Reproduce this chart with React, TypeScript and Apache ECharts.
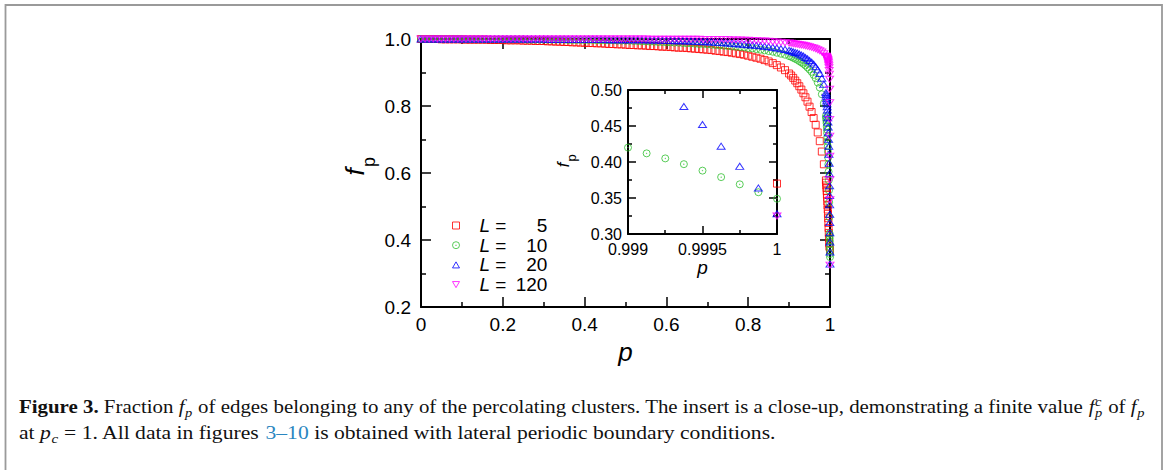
import React, { useEffect, useRef } from 'react';
import * as echarts from 'echarts';

// p values (shared grid)
const P = [
  0, 0.01, 0.02, 0.03, 0.04, 0.05, 0.06, 0.07, 0.08, 0.09,
  0.1, 0.11, 0.12, 0.13, 0.14, 0.15, 0.16, 0.17, 0.18, 0.19,
  0.2, 0.21, 0.22, 0.23, 0.24, 0.25, 0.26, 0.27, 0.28, 0.29,
  0.3, 0.31, 0.32, 0.33, 0.34, 0.35, 0.36, 0.37, 0.38, 0.39,
  0.4, 0.41, 0.42, 0.43, 0.44, 0.45, 0.46, 0.47, 0.48, 0.49,
  0.5, 0.51, 0.52, 0.53, 0.54, 0.55, 0.56, 0.57, 0.58, 0.59,
  0.6, 0.61, 0.62, 0.63, 0.64, 0.65, 0.66, 0.67, 0.68, 0.69,
  0.7, 0.71, 0.72, 0.73, 0.74, 0.75, 0.76, 0.77, 0.78, 0.79,
  0.8, 0.81, 0.82, 0.83, 0.84, 0.85, 0.86, 0.87, 0.88, 0.89,
  0.9,
  0.905, 0.91, 0.915, 0.92, 0.925, 0.93, 0.935, 0.94, 0.945, 0.95, 0.955, 0.96, 0.965, 0.97, 0.975, 0.98, 0.985, 0.99,
  0.9905, 0.991, 0.9915, 0.992, 0.9925, 0.993, 0.9935, 0.994, 0.9945, 0.995, 0.9955, 0.996, 0.9965, 0.997, 0.9975, 0.998, 0.9985, 0.999,
  0.999125, 0.99925, 0.999375, 0.9995, 0.999625, 0.99975, 0.999875, 1,
];

// f_p for L = 5
const F_L5 = [
  1.0, 1.0, 1.0, 1.0, 1.0, 0.999, 0.999, 0.999, 0.999, 0.999,
  0.999, 0.998, 0.998, 0.998, 0.998, 0.998, 0.998, 0.997, 0.997, 0.997,
  0.997, 0.996, 0.996, 0.996, 0.996, 0.995, 0.995, 0.995, 0.994, 0.994,
  0.994, 0.993, 0.993, 0.992, 0.992, 0.991, 0.991, 0.99, 0.99, 0.989,
  0.989, 0.988, 0.988, 0.987, 0.987, 0.986, 0.985, 0.985, 0.984, 0.984,
  0.983, 0.982, 0.982, 0.981, 0.981, 0.98, 0.979, 0.979, 0.978, 0.977,
  0.977, 0.976, 0.975, 0.974, 0.974, 0.973, 0.972, 0.971, 0.97, 0.969,
  0.968, 0.967, 0.965, 0.964, 0.962, 0.961, 0.959, 0.957, 0.955, 0.953,
  0.95, 0.947, 0.944, 0.941, 0.937, 0.933, 0.928, 0.922, 0.915, 0.907,
  0.897,
  0.891, 0.884, 0.876, 0.868, 0.859, 0.849, 0.838, 0.826, 0.813, 0.798, 0.782, 0.764, 0.744, 0.721, 0.695, 0.664, 0.626, 0.578,
  0.571, 0.563, 0.555, 0.546, 0.536, 0.526, 0.515, 0.503, 0.491, 0.478, 0.465, 0.451, 0.436, 0.421, 0.405, 0.39, 0.38, null,
  null, null, null, null, null, null, null, 0.37,
];

// f_p for L = 10
const F_L10 = [
  1.0, 1.0, 1.0, 1.0, 1.0, 1.0, 1.0, 1.0, 1.0, 1.0,
  1.0, 0.999, 0.999, 0.999, 0.999, 0.999, 0.999, 0.999, 0.999, 0.999,
  0.999, 0.999, 0.999, 0.999, 0.999, 0.999, 0.998, 0.998, 0.998, 0.998,
  0.998, 0.998, 0.998, 0.998, 0.998, 0.998, 0.997, 0.997, 0.997, 0.997,
  0.997, 0.997, 0.997, 0.996, 0.996, 0.996, 0.996, 0.996, 0.995, 0.995,
  0.995, 0.995, 0.994, 0.994, 0.993, 0.993, 0.992, 0.992, 0.991, 0.991,
  0.99, 0.99, 0.989, 0.989, 0.988, 0.987, 0.987, 0.986, 0.985, 0.985,
  0.984, 0.983, 0.982, 0.981, 0.98, 0.979, 0.978, 0.977, 0.976, 0.975,
  0.973, 0.972, 0.97, 0.968, 0.966, 0.964, 0.962, 0.959, 0.956, 0.953,
  0.949,
  0.947, 0.944, 0.941, 0.938, 0.934, 0.93, 0.926, 0.921, 0.915, 0.909, 0.902, 0.893, 0.883, 0.87, 0.855, 0.835, 0.808, 0.77,
  0.764, 0.757, 0.749, 0.74, 0.73, 0.719, 0.707, 0.694, 0.68, 0.664, 0.646, 0.626, 0.604, 0.578, 0.548, 0.513, 0.468, 0.42,
  0.412, 0.405, 0.397, 0.388, 0.379, 0.369, 0.358, 0.349,
];

// f_p for L = 20
const F_L20 = [
  1.0, 1.0, 1.0, 1.0, 1.0, 1.0, 1.0, 1.0, 1.0, 1.0,
  1.0, 1.0, 1.0, 1.0, 1.0, 1.0, 1.0, 1.0, 1.0, 1.0,
  1.0, 1.0, 1.0, 1.0, 1.0, 1.0, 1.0, 1.0, 1.0, 1.0,
  1.0, 0.999, 0.999, 0.999, 0.999, 0.999, 0.999, 0.999, 0.999, 0.999,
  0.999, 0.999, 0.999, 0.999, 0.999, 0.999, 0.998, 0.998, 0.998, 0.998,
  0.998, 0.998, 0.998, 0.998, 0.998, 0.998, 0.997, 0.997, 0.997, 0.996,
  0.996, 0.996, 0.995, 0.995, 0.995, 0.994, 0.994, 0.993, 0.993, 0.992,
  0.992, 0.991, 0.99, 0.99, 0.989, 0.988, 0.987, 0.986, 0.985, 0.984,
  0.983, 0.982, 0.981, 0.98, 0.978, 0.977, 0.975, 0.973, 0.971, 0.969,
  0.966,
  0.964, 0.962, 0.96, 0.958, 0.955, 0.952, 0.949, 0.945, 0.941, 0.936, 0.931, 0.925, 0.917, 0.908, 0.897, 0.883, 0.865, 0.84,
  0.835, 0.829, 0.822, 0.815, 0.807, 0.798, 0.788, 0.777, 0.765, 0.752, 0.737, 0.72, 0.701, 0.68, 0.656, 0.629, 0.598, 0.562,
  0.533, 0.505, 0.477, 0.452, 0.422, 0.394, 0.364, 0.328,
];

// f_p for L = 120
const F_L120 = [
  1.0, 1.0, 1.0, 1.0, 1.0, 1.0, 1.0, 1.0, 1.0, 1.0,
  1.0, 1.0, 1.0, 1.0, 1.0, 1.0, 1.0, 1.0, 1.0, 1.0,
  1.0, 1.0, 1.0, 1.0, 1.0, 1.0, 1.0, 1.0, 1.0, 1.0,
  1.0, 1.0, 1.0, 1.0, 1.0, 1.0, 1.0, 1.0, 1.0, 1.0,
  1.0, 1.0, 1.0, 1.0, 1.0, 1.0, 1.0, 1.0, 1.0, 1.0,
  1.0, 1.0, 1.0, 1.0, 1.0, 1.0, 0.999, 0.999, 0.999, 0.999,
  0.999, 0.999, 0.999, 0.999, 0.999, 0.999, 0.999, 0.999, 0.999, 0.998,
  0.998, 0.998, 0.998, 0.998, 0.998, 0.998, 0.997, 0.997, 0.997, 0.996,
  0.996, 0.995, 0.995, 0.994, 0.994, 0.993, 0.992, 0.991, 0.99, 0.989,
  0.988,
  0.987, 0.986, 0.985, 0.984, 0.983, 0.982, 0.981, 0.98, 0.978, 0.977, 0.975, 0.973, 0.971, 0.968, 0.965, 0.961, 0.956, 0.949,
  0.948, 0.947, 0.946, 0.945, 0.944, 0.942, 0.941, 0.939, 0.937, 0.935, 0.932, 0.929, 0.925, 0.92, 0.914, 0.906, 0.895, 0.88,
  0.85, 0.81, 0.76, 0.71, 0.65, 0.58, 0.52, 0.325,
];

const SERIES_NAMES = ['5', '10', '20', '120'];
const SERIES_VALUES = [F_L5, F_L10, F_L20, F_L120];
const COLORS = ['#ff0000', '#2fbf2f', '#0000ff', '#ff00ff'];
const SYMBOLS = [
  'path://M0,0L10,0L10,10L0,10Z',
  'path://M10,0A10,10,0,1,1,10,20A10,10,0,1,1,10,0ZM10,9.2A0.8,0.8,0,1,1,10,10.8A0.8,0.8,0,1,1,10,9.2Z',
  'path://M5,0L10,8.66L0,8.66Z',
  'path://M0,0L10,0L5,8.66Z',
];

const SANS = '"Liberation Sans", Arial, Helvetica, sans-serif';
const SERIF = '"Liberation Serif", "Times New Roman", serif';
const LINK = '#2a86c0';

const CAPTION_LINE1 = [
  { t: 'Figure 3.', w: 'bold' },
  { t: ' Fraction ' },
  { t: 'f', i: true },
  { t: 'p', i: true, sub: true },
  { t: ' of edges belonging to any of the percolating clusters. The insert is a close-up, demonstrating a finite value ' },
  { t: 'f', i: true },
  { t: 'c', i: true, sup: true, stack: true },
  { t: 'p', i: true, sub: true },
  { t: ' of ' },
  { t: 'f', i: true },
  { t: 'p', i: true, sub: true },
];
const CAPTION_LINE2 = [
  { t: 'at ' },
  { t: 'p', i: true },
  { t: 'c', i: true, sub: true },
  { t: ' = 1. All data in figures ' },
  { t: '3', color: LINK },
  { t: '\u2013', color: LINK },
  { t: '10', color: LINK },
  { t: ' is obtained with lateral periodic boundary conditions.' },
];

function pairs(vals: (number | null)[]) {
  const out: number[][] = [];
  for (let i = 0; i < P.length; i++) {
    const v = vals[i];
    if (v != null) out.push([P[i], v]);
  }
  return out;
}

function captionLine(segs: any[], x0: number, baseline: number, target: number) {
  const canvas = document.createElement('canvas');
  const ctx = canvas.getContext('2d')!;
  const base = 18;
  const small = 12.5;
  let cursor = 0;
  const children: any[] = [];
  for (const s of segs) {
    const size = s.sub || s.sup ? small : base;
    const fs = s.i ? 'italic' : 'normal';
    const fw = s.w || 'normal';
    ctx.font = `${fs} ${fw} ${size}px ${SERIF}`;
    const w = ctx.measureText(s.t).width;
    const dy = s.sub ? 4 : s.sup ? -7 : 0;
    children.push({
      type: 'text',
      x: cursor + (s.sub || s.sup ? 0.5 : 0),
      y: baseline + dy - 0.3375 * size,
      silent: true,
      style: {
        text: s.t,
        fontSize: size,
        fontFamily: SERIF,
        fontStyle: fs,
        fontWeight: fw,
        fill: s.color || '#111',
        align: 'left',
        verticalAlign: 'middle',
      },
    });
    if (!s.stack) cursor += w + (s.sub || s.sup ? 1 : 0);
  }
  return { type: 'group', x: x0, y: 0, scaleX: target / cursor, children };
}

function tickAxis(extra: any, big: boolean) {
  return {
    type: 'value',
    splitLine: { show: false },
    minorSplitLine: { show: false },
    axisLine: { show: true, onZero: false, lineStyle: { color: '#000', width: 2 } },
    axisTick: { show: true, inside: true, length: big ? 10 : 8, lineStyle: { color: '#000', width: 1.5 } },
    minorTick: { show: true, splitNumber: 2, length: big ? 5 : 4, lineStyle: { color: '#000', width: 1.5 } },
    ...extra,
  };
}

export default function App() {
  const ref = useRef<HTMLDivElement>(null);
  useEffect(() => {
    const el = ref.current!;
    const chart = echarts.init(el, undefined, { renderer: 'svg' });

    const mainLabel = { fontSize: 19, color: '#000', fontFamily: SANS };
    const insetLabel = { fontSize: 16, color: '#000', fontFamily: SANS };

    const series: any[] = [];
    for (let g = 0; g < 2; g++) {
      SERIES_NAMES.forEach((name, k) => {
        series.push({
          type: 'scatter',
          name,
          xAxisIndex: g === 0 ? 0 : 2,
          yAxisIndex: g === 0 ? 0 : 2,
          data: pairs(SERIES_VALUES[k]),
          symbol: SYMBOLS[k],
          symbolKeepAspect: true,
          symbolSize: k >= 2 ? [8, 7] : 7,
          clip: true,
          silent: true,
          z: 3 + k,
          itemStyle: { color: 'rgba(0,0,0,0)', borderColor: COLORS[k], borderWidth: 1 },
          emphasis: { disabled: true },
        });
      });
    }

    const option: any = {
      animation: false,
      backgroundColor: '#fff',
      grid: [
        { left: 421, top: 39, width: 409, height: 268, containLabel: false },
        { left: 628, top: 90, width: 149, height: 144, containLabel: false, show: true, backgroundColor: '#fff', borderWidth: 0 },
      ],
      xAxis: [
        tickAxis({
          gridIndex: 0, position: 'bottom', min: 0, max: 1, interval: 0.2,
          axisLabel: { ...mainLabel, margin: 8 },
          name: 'p', nameLocation: 'middle', nameGap: 29,
          nameTextStyle: { fontSize: 26, fontStyle: 'italic', fontFamily: SANS, color: '#000' },
        }, true),
        tickAxis({ gridIndex: 0, position: 'top', min: 0, max: 1, interval: 0.2, axisLabel: { show: false } }, true),
        tickAxis({
          gridIndex: 1, position: 'bottom', min: 0.999, max: 1, interval: 0.0005,
          axisLabel: { ...insetLabel, margin: 7, formatter: (v: number) => String(+v.toFixed(4)) },
          name: 'p', nameLocation: 'middle', nameGap: 24,
          nameTextStyle: { fontSize: 19, fontStyle: 'italic', fontFamily: SANS, color: '#000' },
        }, false),
        tickAxis({ gridIndex: 1, position: 'top', min: 0.999, max: 1, interval: 0.0005, axisLabel: { show: false } }, false),
      ],
      yAxis: [
        tickAxis({
          gridIndex: 0, position: 'left', min: 0.2, max: 1.0, interval: 0.2,
          axisLabel: { ...mainLabel, margin: 10, formatter: (v: number) => v.toFixed(1) },
        }, true),
        tickAxis({ gridIndex: 0, position: 'right', min: 0.2, max: 1.0, interval: 0.2, axisLabel: { show: false } }, true),
        tickAxis({
          gridIndex: 1, position: 'left', min: 0.3, max: 0.5, interval: 0.05,
          axisLabel: { ...insetLabel, margin: 6, formatter: (v: number) => v.toFixed(2) },
        }, false),
        tickAxis({ gridIndex: 1, position: 'right', min: 0.3, max: 0.5, interval: 0.05, axisLabel: { show: false } }, false),
      ],
      legend: {
        orient: 'vertical',
        left: 452,
        top: 216,
        padding: 0,
        itemWidth: 7,
        itemHeight: 7,
        itemGap: 0.7,
        selectedMode: false,
        data: SERIES_NAMES,
        itemStyle: { borderWidth: 1 },
        formatter: (name: string) => `{l|L}{e| =}{n|${name}}`,
        textStyle: {
          rich: {
            l: { fontFamily: SANS, fontStyle: 'italic', fontSize: 19, color: '#000', lineHeight: 20, padding: [0, 0, 0, 15] },
            e: { fontFamily: SANS, fontSize: 19, color: '#000', lineHeight: 20 },
            n: { fontFamily: SANS, fontSize: 19, color: '#000', lineHeight: 20, width: 41, align: 'right' },
          },
        },
      },
      graphic: {
        elements: [
          {
            type: 'rect', silent: true, z: -10,
            shape: { x: 5.5, y: 5, width: 1156.5, height: 600 },
            style: { fill: 'none', stroke: '#9a9a9a', lineWidth: 1.8 },
          },
          {
            type: 'group', x: 355, y: 172, rotation: Math.PI / 2, silent: true,
            children: [
              { type: 'text', x: 0, y: 0, style: { text: 'f', fontSize: 26, fontStyle: 'italic', fontFamily: SANS, fill: '#000', align: 'center', verticalAlign: 'middle' } },
              { type: 'text', x: 10, y: 14, style: { text: 'p', fontSize: 18, fontFamily: SANS, fill: '#000', align: 'center', verticalAlign: 'middle' } },
            ],
          },
          {
            type: 'group', x: 563, y: 165, rotation: Math.PI / 2, silent: true,
            children: [
              { type: 'text', x: 0, y: 0, style: { text: 'f', fontSize: 17, fontStyle: 'italic', fontFamily: SANS, fill: '#000', align: 'center', verticalAlign: 'middle' } },
              { type: 'text', x: 7, y: 8, style: { text: 'p', fontSize: 13, fontFamily: SANS, fill: '#000', align: 'center', verticalAlign: 'middle' } },
            ],
          },
          captionLine(CAPTION_LINE1, 19, 413, 1126),
          captionLine(CAPTION_LINE2, 19, 439, 757),
        ],
      },
      series,
    };

    chart.setOption(option);
    return () => chart.dispose();
  }, []);

  return <div ref={ref} style={{ position: 'fixed', left: 0, top: 0, width: 1168, height: 470 }} />;
}
